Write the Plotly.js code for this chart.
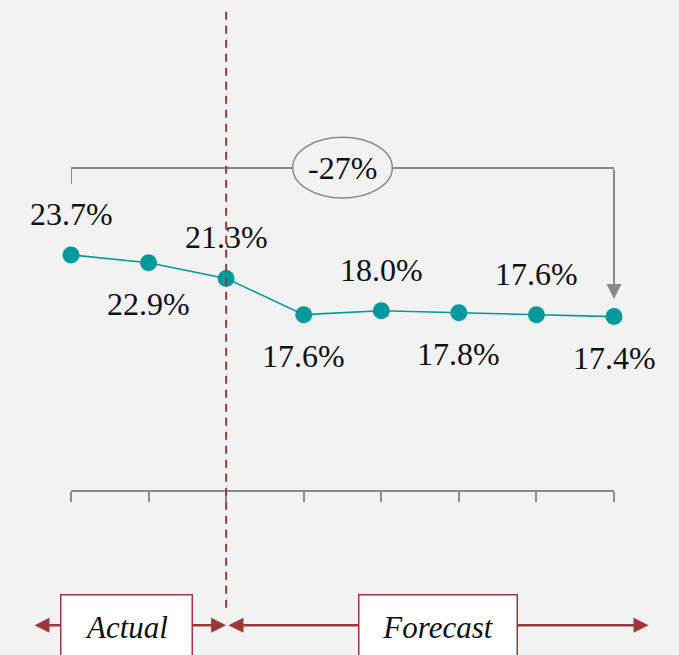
<!DOCTYPE html>
<html>
<head>
<meta charset="utf-8">
<script src="https://cdn.plot.ly/plotly-3.0.1.min.js"></script>
<style>
  html, body { margin: 0; padding: 0; background: #f2f2f2; }
  #chart { width: 679px; height: 655px; }
</style>
</head>
<body>
<div id="chart"></div>
<script>
// Share values per period: the first three are actuals, the rest forecasts
const periods = [0, 1, 2, 3, 4, 5, 6, 7];
const shares = [23.7, 22.9, 21.3, 17.6, 18.0, 17.8, 17.6, 17.4];
const lastActualIndex = 2;
const phaseNames = ['Actual', 'Forecast'];

const TEAL = '#009a9c';
const GREY = '#8a8a8a';
const RED = '#9e3838';
const SERIF = "'Liberation Serif', serif";

const yRange = [-0.3, 48.8];
const first = shares[0];
const last = shares[shares.length - 1];
const changePct = Math.round((last - first) / first * 100);

// bracket geometry (data units)
const bracketLevel = 32.57;
const bracketLeftFoot = 30.94;
const bracketTip = 19.2;
const lastX = periods[periods.length - 1];
const midX = (periods[0] + lastX) / 2;

const trace = {
  x: periods,
  y: shares,
  type: 'scatter',
  mode: 'lines+markers',
  line: { color: TEAL, width: 1.6 },
  marker: { color: TEAL, size: 17 },
  hoverinfo: 'skip',
  cliponaxis: false
};

// value labels alternate above / below the points
const valueLabels = periods.map((p, i) => ({
  x: p, y: shares[i], xref: 'x', yref: 'y',
  text: shares[i].toFixed(1) + '%',
  showarrow: false,
  xanchor: 'center', yanchor: 'middle',
  yshift: i % 2 === 0 ? 41 : -41,
  font: { family: SERIF, size: 32, color: '#111111' }
}));

const arrowY = -0.281;
const phaseArrows = [
  { // actual period span
    x: lastActualIndex, y: arrowY, xref: 'x', yref: 'paper',
    ax: -0.49, ay: 0, axref: 'x', ayref: 'pixel',
    text: ' ', font: { size: 1 },
    showarrow: true, arrowside: 'end+start',
    arrowhead: 2, startarrowhead: 2, arrowsize: 1.2, startarrowsize: 1.2,
    arrowwidth: 2.5, arrowcolor: RED
  },
  { // forecast period span
    x: 7.445, y: arrowY, xref: 'x', yref: 'paper',
    ax: lastActualIndex + 0.01, ay: 0, axref: 'x', ayref: 'pixel',
    text: ' ', font: { size: 1 },
    showarrow: true, arrowside: 'end+start',
    arrowhead: 2, startarrowhead: 2, arrowsize: 1.2, startarrowsize: 1.2,
    arrowwidth: 2.5, arrowcolor: RED
  }
];

const phaseBoxes = [
  { x: 0.7137, width: 130, text: phaseNames[0] },
  { x: 4.726, width: 157, text: phaseNames[1] }
].map(b => ({
  x: b.x, y: -0.285, xref: 'x', yref: 'paper',
  xanchor: 'center', yanchor: 'middle',
  text: b.text, showarrow: false,
  width: b.width, height: 63, borderpad: 0,
  bgcolor: '#ffffff', bordercolor: RED, borderwidth: 1.5,
  font: { family: SERIF, size: 31, color: '#111111', style: 'italic' }
}));

// gray arrow from the bracket down to the last point
const changeArrow = {
  x: lastX, y: bracketTip, xref: 'x', yref: 'y',
  ax: lastX, ay: bracketLevel, axref: 'x', ayref: 'y',
  text: ' ', font: { size: 1 },
  showarrow: true, arrowhead: 2, arrowsize: 1.5, arrowwidth: 2,
  arrowcolor: GREY
};

const changeLabel = {
  x: midX, y: bracketLevel, xref: 'x', yref: 'y',
  xanchor: 'center', yanchor: 'middle',
  text: (changePct > 0 ? '+' : '') + changePct + '%',
  showarrow: false,
  font: { family: SERIF, size: 32, color: '#111111' }
};

const shapes = [
  { // bracket
    type: 'path', xref: 'x', yref: 'y',
    path: `M ${periods[0]},${bracketLeftFoot} L ${periods[0]},${bracketLevel} L ${lastX},${bracketLevel} L ${lastX},${bracketTip + 1.5}`,
    line: { color: GREY, width: 2 }, layer: 'above'
  },
  { // oval behind the change label
    type: 'circle', xref: 'x', yref: 'y',
    x0: 2.858, x1: 4.142, y0: 29.51, y1: 35.70,
    fillcolor: '#f2f2f2', line: { color: GREY, width: 1.5 }, layer: 'above'
  },
  { // actual / forecast divider
    type: 'line', xref: 'x', yref: 'paper',
    x0: lastActualIndex, x1: lastActualIndex, y0: -0.245, y1: 1.0,
    line: { color: RED, width: 2, dash: '8px,6px' }, layer: 'above'
  }
];

const layout = {
  width: 679, height: 655,
  margin: { l: 71, r: 65, t: 9, b: 165 },
  paper_bgcolor: '#f2f2f2',
  plot_bgcolor: '#f2f2f2',
  showlegend: false,
  font: { family: SERIF },
  xaxis: {
    range: [periods[0], lastX],
    tickvals: periods,
    showticklabels: false,
    showgrid: false, zeroline: false,
    showline: true, linecolor: GREY, linewidth: 2,
    ticks: 'outside', ticklen: 10, tickwidth: 2, tickcolor: GREY,
    fixedrange: true
  },
  yaxis: {
    range: yRange,
    visible: false,
    fixedrange: true
  },
  shapes: shapes,
  annotations: [...valueLabels, changeArrow, changeLabel, ...phaseArrows, ...phaseBoxes]
};

Plotly.newPlot('chart', [trace], layout, { staticPlot: true, displayModeBar: false });
</script>
</body>
</html>
